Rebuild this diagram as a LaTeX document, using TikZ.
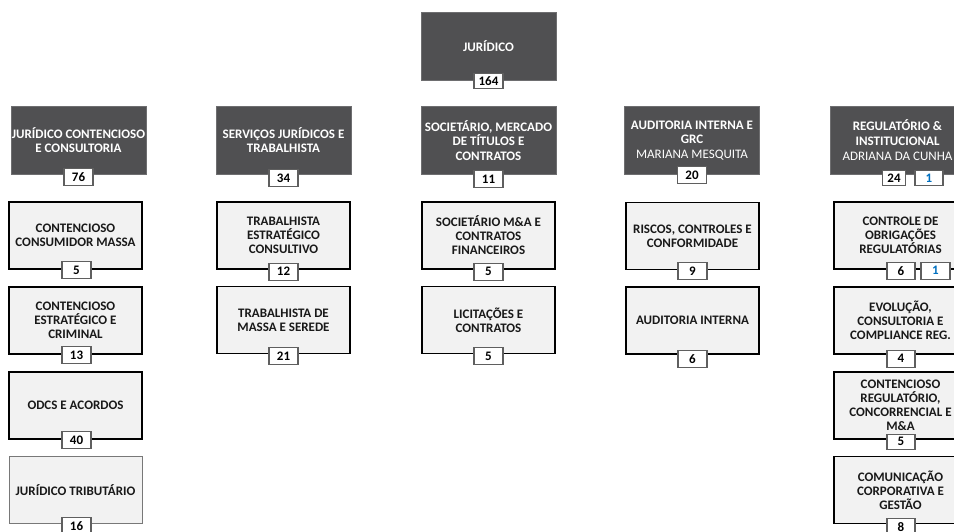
\documentclass[tikz,border=0pt]{standalone}
\usepackage{fontspec}
\setmainfont{Carlito}
\definecolor{hdrfill}{RGB}{80,80,82}
\definecolor{hdrline}{RGB}{110,110,112}
\definecolor{subfill}{RGB}{242,242,242}
\definecolor{cntline}{RGB}{95,95,95}
\definecolor{tribline}{RGB}{120,120,120}
\definecolor{numblue}{RGB}{0,112,192}
\tikzset{
  hdr/.style={draw=hdrline, line width=0.6pt, fill=hdrfill, text=white, minimum width=135pt, minimum height=68pt, inner sep=0pt, align=center, font=\fontsize{13}{14.6}\selectfont\bfseries},
  subbox/.style={draw=black, line width=1.4pt, fill=subfill, text=black!90, minimum width=133pt, minimum height=67pt, inner sep=0pt, align=center, font=\fontsize{13}{14}\selectfont\bfseries},
  cnt/.style={draw=cntline, line width=1.1pt, fill=white, text=black, minimum width=29pt, minimum height=17pt, inner sep=0pt, font=\fontsize{13}{14}\selectfont\bfseries},
  cntblue/.style={cnt, text=numblue},
}
\begin{document}
\begin{tikzpicture}[x=1pt,y=-1pt]
\useasboundingbox (0,0) rectangle (954,531);
% top
\node[hdr] (top) at (488.5,46) {JURÍDICO};
\node[cnt, minimum height=15pt] (topn) at ([yshift=-1pt]top.south) {164};
% headers
\node[hdr] (h1) at (78.5,140) {JURÍDICO CONTENCIOSO\\E CONSULTORIA};
\node[cnt] (h1n) at ([xshift=0pt,yshift=-3pt]h1.south) {76};
\node[hdr] (h2) at (283.5,140) {SERVIÇOS JURÍDICOS E\\TRABALHISTA};
\node[cnt] (h2n) at ([yshift=-4pt]h2.south) {34};
\node[hdr] (h3) at (488.5,140.5) {SOCIETÁRIO, MERCADO\\DE TÍTULOS E\\CONTRATOS};
\node[cnt] (h3n) at ([yshift=-4pt]h3.south) {11};
\node[hdr] (h4) at (692,140.5) {AUDITORIA INTERNA E\\GRC\\{\mdseries MARIANA MESQUITA}};
\node[cnt] (h4n) at ([yshift=0pt]h4.south) {20};
\node[hdr] (h5) at (897.5,140) {REGULATÓRIO \&\\INSTITUCIONAL\\{\mdseries ADRIANA DA CUNHA}};
\node[cnt, minimum width=23pt, minimum height=15pt] (h5n) at ([xshift=-3.5pt,yshift=-3.5pt]h5.south) {24};
\node[cntblue, minimum width=28pt, minimum height=15pt] (h5b) at ([xshift=31.5pt,yshift=-3.5pt]h5.south) {1};
% column 1
\node[subbox] (a1) at (75.5,235.5) {CONTENCIOSO\\CONSUMIDOR MASSA};
\node[cnt] (a1n) at ([xshift=1pt,yshift=-0.5pt]a1.south) {5};
\node[subbox] (a2) at (75.5,320.5) {CONTENCIOSO\\ESTRATÉGICO E\\CRIMINAL};
\node[cnt] (a2n) at ([xshift=1pt,yshift=-0.5pt]a2.south) {13};
\node[subbox] (a3) at (75.5,405.5) {ODCS E ACORDOS};
\node[cnt] (a3n) at ([xshift=1pt,yshift=-0.5pt]a3.south) {40};
\node[subbox, draw=tribline, line width=1pt] (a4) at (75.5,490) {JURÍDICO TRIBUTÁRIO};
\node[cnt] (a4n) at ([xshift=1pt,yshift=-2pt]a4.south) {16};
% column 2
\node[subbox] (b1) at (283.5,235.5) {TRABALHISTA\\ESTRATÉGICO\\CONSULTIVO};
\node[cnt] (b1n) at ([yshift=-2pt]b1.south) {12};
\node[subbox] (b2) at (283.5,320) {TRABALHISTA DE\\MASSA E SEREDE};
\node[cnt] (b2n) at ([yshift=-2pt]b2.south) {21};
% column 3
\node[subbox] (c1) at (488.5,235.5) {SOCIETÁRIO M\&A E\\CONTRATOS\\FINANCEIROS};
\node[cnt] (c1n) at ([yshift=-2pt]c1.south) {5};
\node[subbox] (c2) at (488.5,320) {LICITAÇÕES E\\CONTRATOS};
\node[cnt] (c2n) at ([yshift=-2pt]c2.south) {5};
% column 4
\node[subbox] (d1) at (692.5,236) {RISCOS, CONTROLES E\\CONFORMIDADE};
\node[cnt] (d1n) at ([yshift=-1pt]d1.south) {9};
\node[subbox] (d2) at (692.5,320.5) {AUDITORIA INTERNA};
\node[cnt] (d2n) at ([yshift=-4pt]d2.south) {6};
% column 5
\node[subbox] (e1) at (900.5,235.5) {CONTROLE DE\\OBRIGAÇÕES\\REGULATÓRIAS};
\node[cnt, minimum width=28pt] (e1n) at ([xshift=0.5pt,yshift=-1pt]e1.south) {6};
\node[cntblue, minimum width=29pt] (e1b) at ([xshift=35pt,yshift=-1pt]e1.south) {1};
\node[subbox] (e2) at (900.5,320.5) {EVOLUÇÃO,\\CONSULTORIA E\\COMPLIANCE REG.};
\node[cnt, minimum width=28pt] (e2n) at ([xshift=0.5pt,yshift=-4pt]e2.south) {4};
\node[subbox] (e3) at (900.5,405.5) {CONTENCIOSO\\REGULATÓRIO,\\CONCORRENCIAL E\\M\&A};
\node[cnt, minimum width=28pt, minimum height=15pt] (e3n) at ([xshift=0.5pt,yshift=-2pt]e3.south) {5};
\node[subbox] (e4) at (900.5,490) {COMUNICAÇÃO\\CORPORATIVA E\\GESTÃO};
\node[cnt, minimum width=28pt] (e4n) at ([xshift=0.5pt,yshift=-3pt]e4.south) {8};
\end{tikzpicture}
\end{document}
